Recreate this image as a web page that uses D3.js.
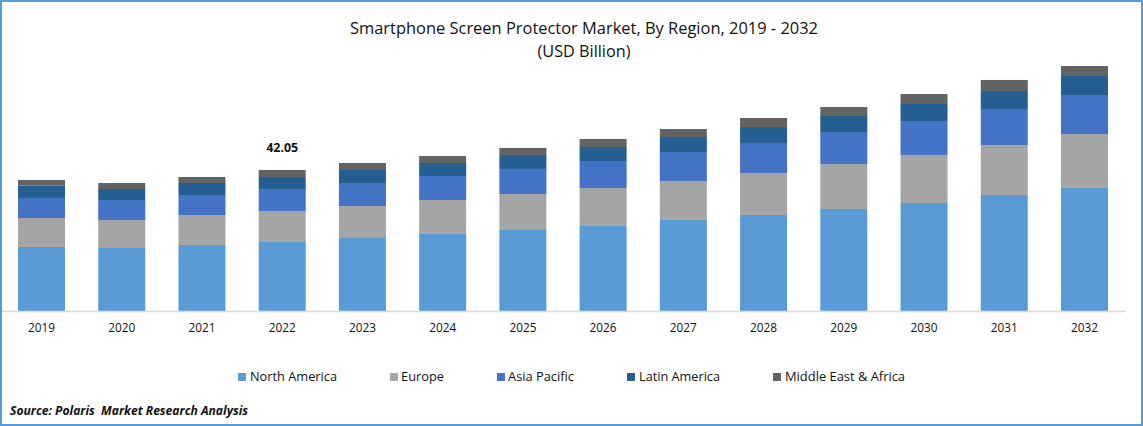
<!DOCTYPE html>
<html lang="en">

<head>
    <meta charset="UTF-8" />
    <title>Smartphone Screen Protector Market</title>
    <script type="text/javascript" src="https://cdn.jsdelivr.net/npm/d3@7"></script>
    <style>
        html, body { margin: 0; padding: 0; background: #fff; overflow: hidden; }
        svg { display: block; font-family: "Open Sans", sans-serif; }
    </style>
</head>

<body>
    <div id="my_dataviz"></div>
    <script type="text/javascript">
        // values (USD Billion)
        const years = ["2019", "2020", "2021", "2022", "2023", "2024", "2025", "2026", "2027", "2028", "2029", "2030", "2031", "2032"];
        const regions = ["North America", "Europe", "Asia Pacific", "Latin America", "Middle East & Africa"];
        const northAmerica = [19.09, 18.79, 19.68, 20.58, 21.77, 22.96, 24.16, 25.35, 27.14, 28.63, 30.42, 32.21, 34.6, 36.68];
        const europe = [8.65, 8.35, 8.95, 9.25, 9.54, 10.14, 10.74, 11.33, 11.63, 12.53, 13.42, 14.32, 14.91, 16.1];
        const asiaPacific = [5.96, 5.96, 5.96, 6.56, 6.86, 7.16, 7.46, 8.05, 8.65, 8.95, 9.54, 10.14, 10.74, 11.63];
        const latinAmerica = [3.67, 3.28, 3.58, 3.58, 3.88, 3.88, 4.18, 4.18, 4.47, 4.77, 4.77, 5.07, 5.37, 5.67];
        const middleEast = [1.7, 1.79, 1.79, 2.08, 2.09, 2.09, 2.09, 2.39, 2.39, 2.68, 2.68, 2.98, 3.28, 2.98];
        const calloutYear = "2022";
        const calloutLabel = "42.05";

        const width = 1143, height = 426;
        const baseline = 311;
        const pxPerUnit = 141 / 42.05;

        const colors = ["#5b9bd5", "#a5a5a5", "#4472c4", "#255e91", "#636363"];
        const seriesValues = [northAmerica, europe, asiaPacific, latinAmerica, middleEast];

        const data = years.map(function (y, i) {
            const row = { year: y };
            regions.forEach(function (r, j) { row[r] = seriesValues[j][i]; });
            return row;
        });

        const svg = d3.select("#my_dataviz")
            .append("svg")
            .attr("width", width)
            .attr("height", height);

        // fit a label to the width it has in the reference
        function fitted(sel, w) {
            return sel.attr("textLength", w).attr("lengthAdjust", "spacingAndGlyphs");
        }

        const x = d3.scaleBand()
            .domain(years)
            .range([1.4, 1124.6])
            .paddingInner(0.414)
            .paddingOuter(0.207);

        const y = d3.scaleLinear()
            .domain([0, baseline / pxPerUnit])
            .range([baseline, 0]);

        const color = d3.scaleOrdinal().domain(regions).range(colors);

        const series = d3.stack().keys(regions)(data);

        // bars
        svg.selectAll("g.stack")
            .data(series)
            .enter().append("g")
            .attr("class", "stack")
            .attr("fill", function (d) { return color(d.key); })
            .selectAll("rect")
            .data(function (d) { return d; })
            .enter().append("rect")
            .attr("x", function (d) { return x(d.data.year); })
            .attr("y", function (d) { return y(d[1]); })
            .attr("width", x.bandwidth())
            .attr("height", function (d) { return y(d[0]) - y(d[1]); });

        // x axis
        const axis = svg.append("g")
            .attr("transform", `translate(0, ${baseline})`)
            .call(d3.axisBottom(x).tickSize(0).tickPadding(15));
        axis.select(".domain").attr("stroke", "#d9d9d9").attr("stroke-width", 1.5);
        axis.selectAll("text")
            .attr("font-family", "Open Sans")
            .attr("font-size", 12.5)
            .attr("fill", "#111")
            .attr("dy", "0.5em")
            .call(fitted, 27);

        // title
        svg.append("text").attr("x", 584).attr("y", 34)
            .attr("text-anchor", "middle").attr("font-size", 16.5).attr("fill", "#111")
            .text("Smartphone Screen Protector Market, By Region, 2019 - 2032")
            .call(fitted, 468);
        svg.append("text").attr("x", 584).attr("y", 57)
            .attr("text-anchor", "middle").attr("font-size", 16.5).attr("fill", "#111")
            .text("(USD Billion)")
            .call(fitted, 93);

        // callout over 2022
        svg.append("text")
            .attr("x", x(calloutYear) + x.bandwidth() / 2)
            .attr("y", 152)
            .attr("text-anchor", "middle")
            .attr("font-size", 12)
            .attr("font-weight", "bold")
            .attr("fill", "#111")
            .text(calloutLabel)
            .call(fitted, 32);

        // legend
        const legendX = [238, 390, 497, 627, 773];
        const legendTextX = [250, 401, 508, 639, 785];
        const legendTextW = [87, 43, 66, 81, 120];

        const legend = svg.selectAll(".legend")
            .data(regions)
            .enter().append("g")
            .attr("class", "legend");

        legend.append("rect")
            .attr("x", function (d, i) { return legendX[i]; })
            .attr("y", 373)
            .attr("width", 8)
            .attr("height", 8)
            .attr("fill", function (d) { return color(d); });

        legend.append("text")
            .attr("x", function (d, i) { return legendTextX[i]; })
            .attr("y", 381)
            .attr("font-size", 13)
            .attr("fill", "#111")
            .attr("textLength", function (d, i) { return legendTextW[i]; })
            .attr("lengthAdjust", "spacingAndGlyphs")
            .text(function (d) { return d; });

        // source line
        svg.append("text").attr("x", 10).attr("y", 415)
            .attr("font-size", 12).attr("font-weight", "bold").attr("font-style", "italic")
            .attr("fill", "#111")
            .text("Source: Polaris  Market Research Analysis")
            .attr("xml:space", "preserve")
            .call(fitted, 238);

        // frame
        svg.append("rect").attr("x", 1).attr("y", 1)
            .attr("width", width - 2).attr("height", height - 2)
            .attr("fill", "none").attr("stroke", "#5b9bd5").attr("stroke-width", 2);
    </script>
</body>

</html>
